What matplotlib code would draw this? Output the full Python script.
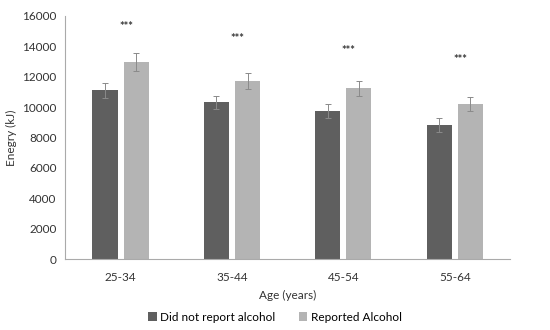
import numpy as np
import matplotlib.pyplot as plt

plt.rcParams['font.family'] = ['Lato', 'DejaVu Sans']

ages = ['25-34', '35-44', '45-54', '55-64']
no_alc = [11100, 10320, 9730, 8820]
no_alc_err = [480, 420, 460, 450]
alc = [12960, 11700, 11240, 10190]
alc_err = [600, 520, 500, 450]
star_y = [15300, 14500, 13750, 13150]

x = np.arange(len(ages))
w = 0.225

fig = plt.figure(figsize=(5.5, 3.3), dpi=100)
ax = fig.add_axes([0.118, 0.215, 0.81, 0.737])

ebar = dict(ecolor='#8a8a8a', elinewidth=0.7, capsize=2, capthick=0.7)
ax.bar(x - 0.14, no_alc, w, color='#5f5f5f', label='Did not report alcohol',
       yerr=no_alc_err, error_kw=ebar)
ax.bar(x + 0.14, alc, w, color='#b4b4b4', label='Reported Alcohol',
       yerr=alc_err, error_kw=ebar)

for i in range(len(ages)):
    ax.text(x[i] + 0.05, star_y[i], '***', ha='center', va='center', fontsize=8,
            fontweight='bold', color='#333333')

ax.set_xlim(-0.5, 3.5)
ax.set_ylim(0, 16000)
ax.set_yticks(range(0, 16001, 2000))
ax.set_xticks(x)
ax.set_xticklabels(ages)
ax.tick_params(length=0, labelsize=8.5, colors='#333333')
ax.tick_params(axis='x', pad=9)
ax.tick_params(axis='y', pad=6)
for s in ['top', 'right']:
    ax.spines[s].set_visible(False)
for s in ['left', 'bottom']:
    ax.spines[s].set_color('#aaaaaa')
    ax.spines[s].set_linewidth(0.8)

ax.set_xlabel('Age (years)', fontsize=8.5, color='#333333', labelpad=5)
ax.set_ylabel('Enegry (kJ)', fontsize=8.5, color='#333333', labelpad=4)

fig.legend(loc='lower center', bbox_to_anchor=(0.5, -0.01), ncol=2, frameon=False,
           fontsize=8.5, handlelength=0.7, handleheight=0.7, handletextpad=0.3, columnspacing=2)

fig.savefig('out.png')
